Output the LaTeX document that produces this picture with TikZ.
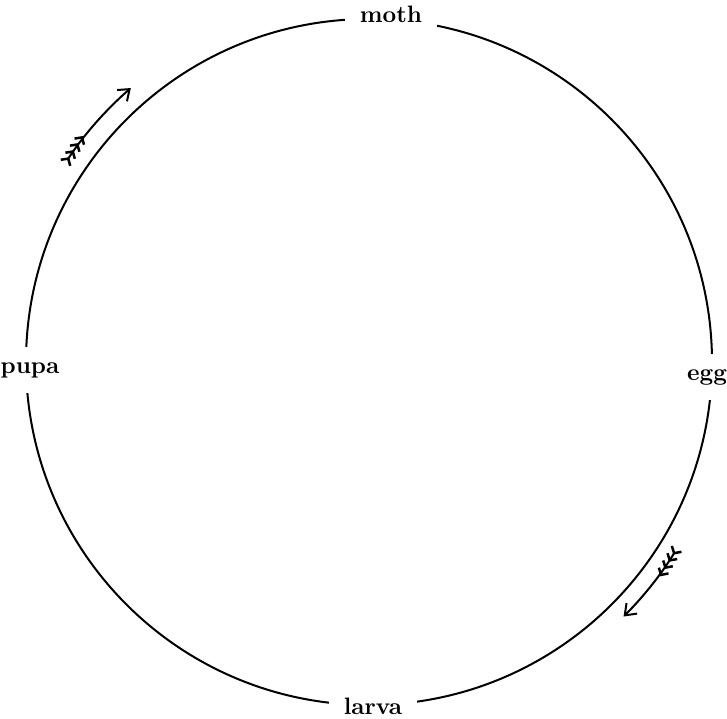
\documentclass[tikz,border=0pt]{standalone}
\usetikzlibrary{arrows.meta}
\tikzset{
  stage/.style={fill=white, inner sep=6pt, font=\fontsize{9.5}{11}\selectfont\bfseries},
  feather/.tip={Straight Barb[reversed, length=2pt, width=4.5pt, sep=0.2pt, line width=1pt]},
  cyclearrow/.style={line width=0.8pt,
    {feather[]feather[]feather[]feather[]}-{Straight Barb[length=4pt, width=6pt]}}
}
\begin{document}
\begin{tikzpicture}[x=0.4pt, y=0.4pt]
  \useasboundingbox (0,0) rectangle (727,719);
  \coordinate (c) at (369,357);
  % the cycle
  \draw[line width=0.8pt] (c) circle (343);
  \node[stage] (moth) at (391,705) {moth};
  \node[stage] (egg) at (707,342) {egg};
  \node[stage] (larva) at (373,13) {larva};
  \node[stage] (pupa) at (30,349) {pupa};
  % direction of the cycle
  \draw[cyclearrow] (c) ++(147:363) arc[start angle=147, end angle=131, radius=363];
  \draw[cyclearrow] (c) ++(-31:360) arc[start angle=-31, end angle=-45, radius=360];
\end{tikzpicture}
\end{document}
